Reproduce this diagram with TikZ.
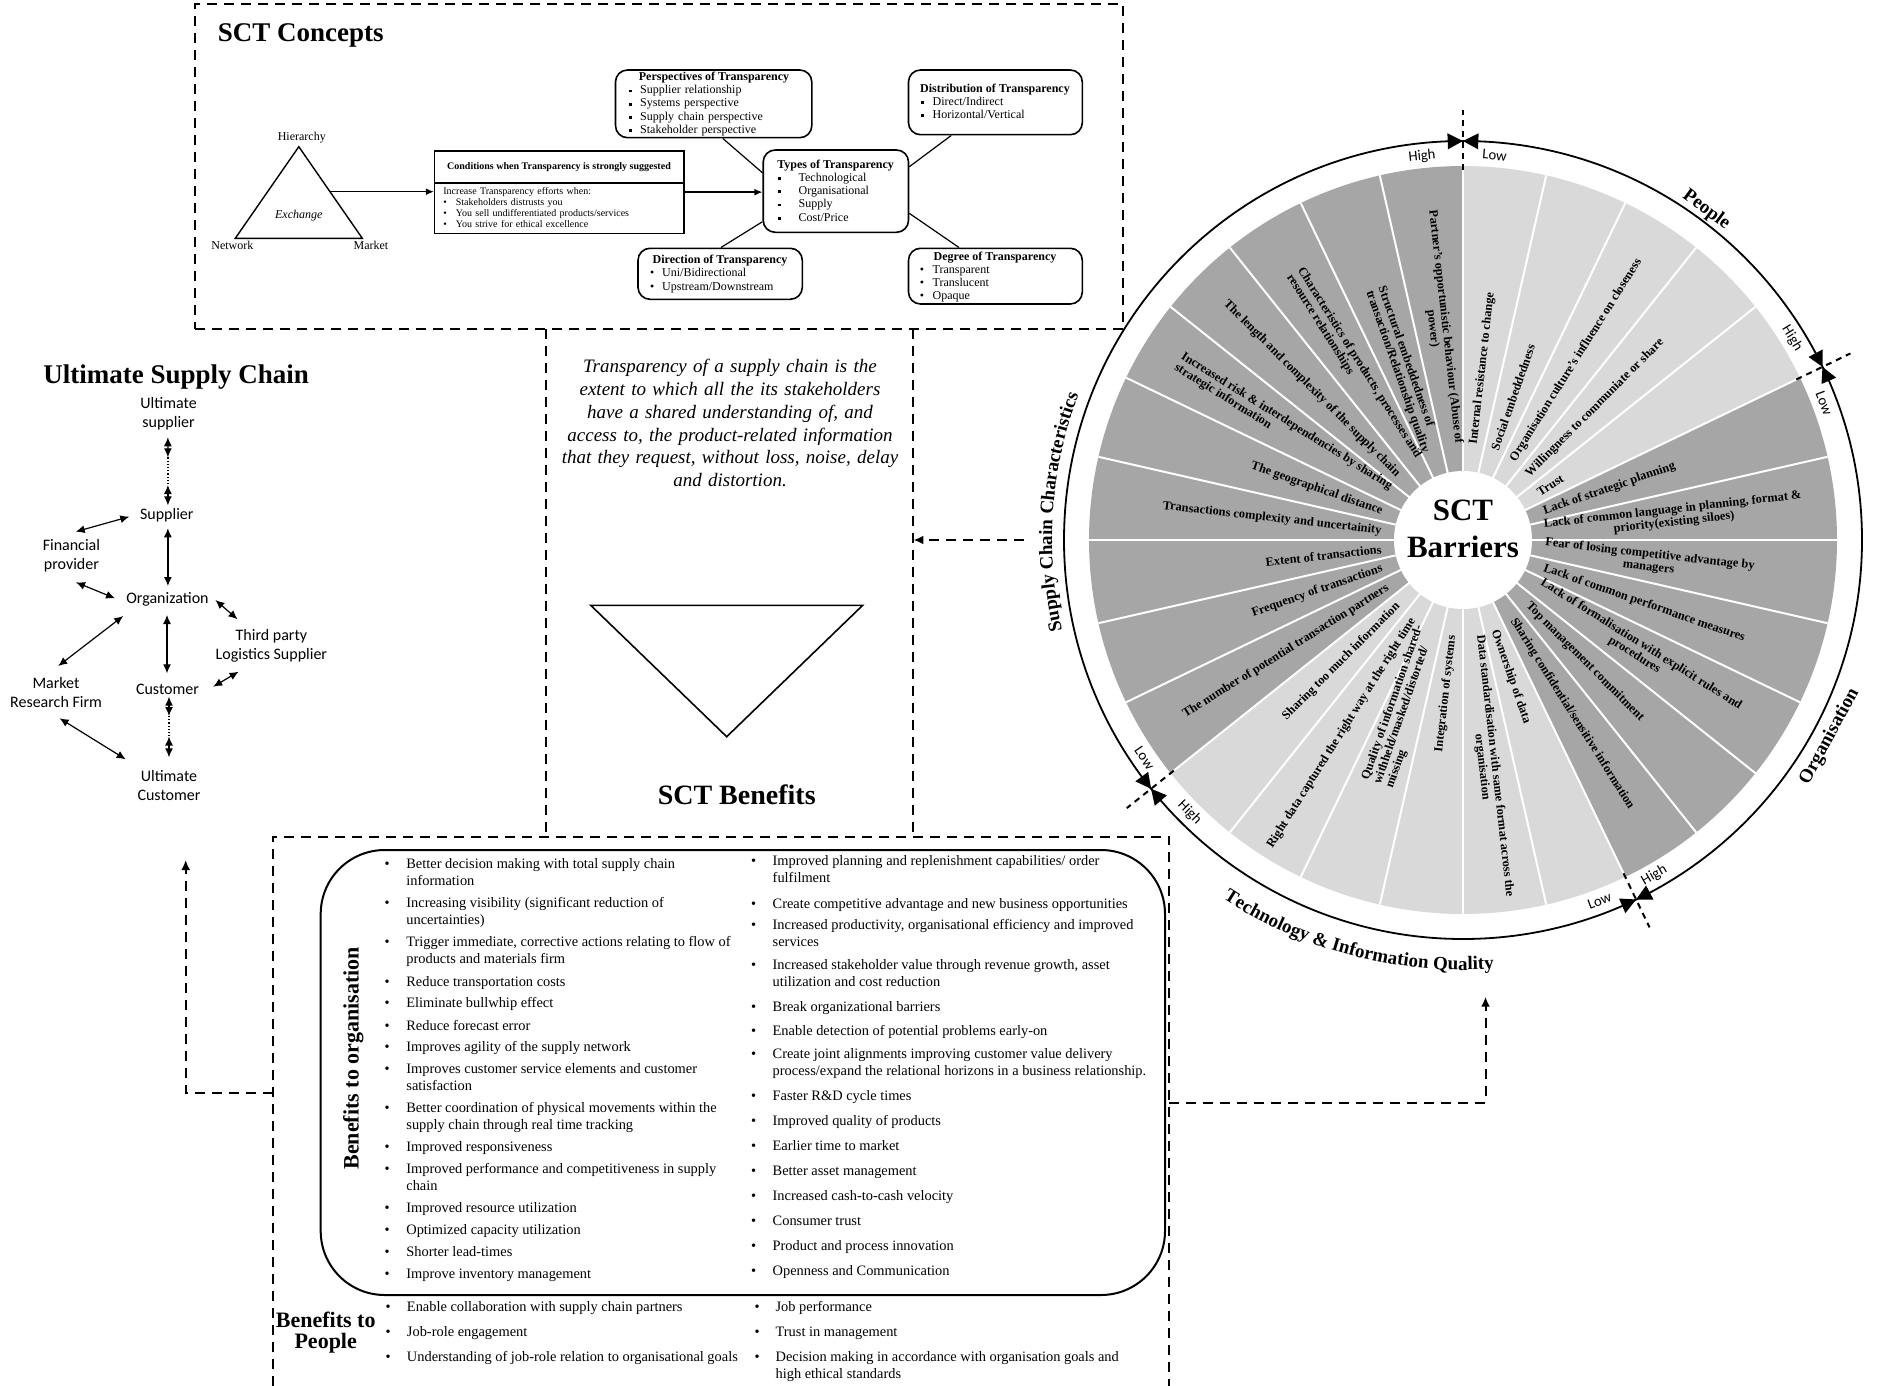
\documentclass[tikz,border=0pt]{standalone}
\usepackage{fontspec}
\setmainfont{Liberation Serif}
\newfontfamily\carlito{Carlito}
\usetikzlibrary{arrows.meta,decorations.text,calc}
\definecolor{wdark}{RGB}{166,166,166}
\definecolor{wlight}{RGB}{217,217,217}
\newcounter{itm}
\newcommand\sqb{\raisebox{0.7pt}{\rule{1.4pt}{1.4pt}}}
% bulleted item: x, baseline y, bullet box width, lines of text
\newcommand\bitem[4]{%
  \stepcounter{itm}%
  \node[bul] (it\theitm) at (#1,#2)
    {\makebox[#3][l]{\textbullet}\begin{tabular}[t]{@{}l@{}}#4\end{tabular}};}
\begin{document}
\begin{tikzpicture}[x=0.5pt, y=-0.5pt,
  dashbox/.style={line width=1pt, dash pattern=on 5pt off 3.5pt},
  flow/.style={line width=1pt, dash pattern=on 5pt off 3.5pt, >={Latex[length=5pt,width=4.5pt]}, ->},
  cnode/.style={draw, line width=0.8pt, rounded corners=6pt, inner sep=0pt},
  ctitle/.style={anchor=base, inner sep=0pt, font=\bfseries\fontsize{6}{6.6}\selectfont},
  clist/.style={anchor=base west, inner sep=0pt, align=left, font=\fontsize{6}{6.6}\selectfont},
  conn/.style={line width=0.6pt},
  carr/.style={line width=0.7pt, >={Latex[length=4pt,width=3.5pt]}, ->},
  sc/.style={font=\carlito\fontsize{8}{9.5}\selectfont, align=center, inner sep=1pt},
  dar/.style={line width=0.6pt, >={Latex[length=4.5pt,width=4pt]}, <->},
  bul/.style={anchor=base west, inner sep=0pt, font=\fontsize{7.2}{8.5}\selectfont},
  wl/.style={font=\bfseries\fontsize{6.2}{6.4}\selectfont, inner sep=0pt},
  hl/.style={font=\carlito\fontsize{7.3}{8}\selectfont, inner sep=0pt},
  cat/.style={font=\bfseries\fontsize{9.5}{11}\selectfont, inner sep=0pt},
]
\fill[white] (0,0) rectangle (1879,1386);
\useasboundingbox (0,0) rectangle (1879,1386);

% ---------------- SCT Concepts ----------------
\node[draw, dashbox, minimum width=464pt, minimum height=162.5pt, inner sep=0pt] (cbox) at (659,166.5) {};
\node[anchor=base west, inner sep=0pt, font=\bfseries\fontsize{13.5}{16}\selectfont] (ctit) at (217.5,42) {SCT Concepts};

% governance triangle
\coordinate (tA) at (298.8,146.7);
\coordinate (tB) at (235.3,238.3);
\coordinate (tC) at (362.3,238.3);
\draw[line width=0.7pt] (tA) -- (tB) -- (tC) -- cycle;
\node[inner sep=0pt, font=\fontsize{6}{7}\selectfont] (hier) at (301.8,137.3) {Hierarchy};
\node[inner sep=0pt, font=\fontsize{6}{7}\selectfont] (netw) at (232.4,245.7) {Network};
\node[inner sep=0pt, font=\fontsize{6}{7}\selectfont] (mark) at (371,245.7) {Market};
\node[inner sep=0pt, font=\itshape\fontsize{6}{7}\selectfont] (exch) at (298.8,216) {Exchange};
\coordinate (triR) at (330,191.7);

% conditions box
\node[draw, line width=0.8pt, minimum width=124.55pt, minimum height=41.15pt, inner sep=0pt] (cond) at (559.15,192.15) {};
\coordinate (cdiv) at (559,182.7);
\draw[line width=0.8pt] (cdiv -| cond.west) -- (cdiv -| cond.east);
\node[anchor=base, inner sep=0pt, font=\bfseries\fontsize{5}{6}\selectfont] (chead) at (559,169.5) {Conditions when Transparency is strongly suggested};
\node[anchor=base west, inner sep=0pt, align=left, text width=120pt, font=\fontsize{5}{5.5}\selectfont] (cbody) at (443,194.3)
  {Increase Transparency efforts when:\\
   \makebox[6.25pt][l]{\textbullet}Stakeholders distrusts you\\
   \makebox[6.25pt][l]{\textbullet}You sell undifferentiated products/services\\
   \makebox[6.25pt][l]{\textbullet}You strive for ethical excellence};

% types and its satellites
\node[cnode, minimum width=98.15pt, minimum height=33.85pt] (persp) at (713.65,103.85) {};
\node[ctitle] (tpersp) at (714,81) {Perspectives of Transparency};
\node[clist, text width=95pt] (lpersp) at (628.3,93.8)
  {\makebox[5.75pt][l]{\sqb}Supplier relationship\\
   \makebox[5.75pt][l]{\sqb}Systems perspective\\
   \makebox[5.75pt][l]{\sqb}Supply chain perspective\\
   \makebox[5.75pt][l]{\sqb}Stakeholder perspective};

\node[cnode, minimum width=86.9pt, minimum height=32.35pt] (dist) at (995.4,102.35) {};
\node[ctitle] (tdist) at (995,92.2) {Distribution of Transparency};
\node[clist, text width=80pt] (ldist) at (920.9,105.5)
  {\makebox[5.7pt][l]{\sqb}Direct/Indirect\\
   \makebox[5.7pt][l]{\sqb}Horizontal/Vertical};

\node[cnode, minimum width=72.65pt, minimum height=41.15pt] (types) at (835.85,191.15) {};
\node[ctitle] (ttypes) at (835.6,168.2) {Types of Transparency};
\node[clist, text width=65pt] (ltypes) at (777.3,181.5)
  {\makebox[10.45pt][l]{\sqb}Technological\\
   \makebox[10.45pt][l]{\sqb}Organisational\\
   \makebox[10.45pt][l]{\sqb}Supply\\
   \makebox[10.45pt][l]{\sqb}Cost/Price};

\node[cnode, minimum width=82.15pt, minimum height=25.5pt] (dir) at (720.15,273.8) {};
\node[ctitle] (tdir) at (720,263.5) {Direction of Transparency};
\node[clist, text width=76pt] (ldir) at (649.6,276.8)
  {\makebox[6.1pt][l]{\textbullet}Uni/Bidirectional\\
   \makebox[6.1pt][l]{\textbullet}Upstream/Downstream};

\node[cnode, minimum width=86.9pt, minimum height=27.85pt] (deg) at (995.4,276.15) {};
\node[ctitle] (tdeg) at (995,260.2) {Degree of Transparency};
\node[clist, text width=80pt] (ldeg) at (919.5,273.5)
  {\makebox[6.4pt][l]{\textbullet}Transparent\\
   \makebox[6.4pt][l]{\textbullet}Translucent\\
   \makebox[6.4pt][l]{\textbullet}Opaque};

\draw[carr] (triR) -- (triR -| cond.west);
\draw[carr] (cond.east) -- (cond.east -| types.west);
\draw[conn] ([xshift=4.6pt]persp.south) -- ([yshift=9.2pt]types.west);
\draw[conn] ([xshift=-22.1pt]dist.south) -- ([yshift=12.2pt]types.east);
\draw[conn] ([xshift=0.4pt]dir.north) -- ([yshift=-15.3pt]types.west);
\draw[conn] ([xshift=-18.2pt]deg.north) -- ([yshift=-11.1pt]types.east);

% ---------------- definition column ----------------
\node[minimum width=183.5pt, minimum height=254pt, inner sep=0pt] (mid) at (729.5,583) {};
\draw[dashbox] (mid.north west) -- (mid.south west);
\draw[dashbox] (mid.north east) -- (mid.south east);
\node[anchor=base, inner sep=0pt, text width=172pt, align=center, font=\itshape\fontsize{9.5}{11.45}\selectfont] (defn) at (730,372.3)
  {Transparency of a supply chain is the\\
   extent to which all the its stakeholders\\
   have a shared understanding of, and\\
   access to, the product-related information\\
   that they request, without loss, noise, delay\\
   and distortion.};
\draw[line width=0.8pt] (590.7,605.3) -- (862.7,605.3) -- (726.7,736.7) -- cycle;
\node[anchor=base, inner sep=0pt, font=\bfseries\fontsize{14}{16}\selectfont] (benf) at (736.7,804) {SCT Benefits};

% ---------------- Ultimate supply chain ----------------
\node[anchor=base west, inner sep=0pt, font=\bfseries\fontsize{13.5}{16}\selectfont] (usc) at (43,383.3) {Ultimate Supply Chain};
\node[sc] (usup) at (168.6,414) {Ultimate\\supplier};
\node[sc] (sup) at (166.8,515.7) {Supplier};
\node[sc] (fin) at (71.4,556) {Financial\\provider};
\node[sc] (org) at (167.5,599.3) {Organization};
\node[sc] (tpl) at (271.4,646) {Third party\\Logistics Supplier};
\node[sc] (cus) at (167.5,689.3) {Customer};
\node[sc] (mrf) at (56,692.2) {Market\\Research Firm};
\node[sc] (ucus) at (169,785) {Ultimate\\Customer};
\coordinate (d1) at (167.9,457.3);
\coordinate (d2) at (167.9,485);
\coordinate (d3) at (169,716);
\coordinate (d4) at (169,736.5);
\draw[dar] ([shift={(-0.7,23.3)}]usup.center) -- (d1);
\draw[densely dotted, line width=0.6pt] (d1) -- (d2);
\draw[dar] (d2) -- ([shift={(1.1,-10.4)}]sup.center);
\draw[dar] ([shift={(1.1,12.6)}]sup.center) -- ([shift={(0.4,-13.3)}]org.center);
\draw[dar] ([shift={(4.3,-24.3)}]fin.center) -- ([shift={(-37.5,1)}]sup.center);
\draw[dar] ([shift={(4.6,26.3)}]fin.center) -- ([shift={(-52.5,-1)}]org.center);
\draw[dar] ([shift={(47.9,0.7)}]org.center) -- ([shift={(-33.9,-26.7)}]tpl.center);
\draw[dar] ([shift={(-0.5,15.7)}]org.center) -- ([shift={(-0.5,-16)}]cus.center);
\draw[dar] ([shift={(45.7,-2.6)}]cus.center) -- ([shift={(-32.8,25.7)}]tpl.center);
\draw[dar] ([shift={(-44.3,16.7)}]org.center) -- ([shift={(2.2,-26.2)}]mrf.center);
\draw[dar] ([shift={(3.6,26.1)}]mrf.center) -- ([shift={(-43.3,-25.7)}]ucus.center);
\draw[dar] ([shift={(1.5,7.4)}]cus.center) -- (d3);
\draw[densely dotted, line width=0.6pt] (d3) -- (d4);
\draw[dar] (d4) -- ([shift={(0,-27.7)}]ucus.center);

% ---------------- SCT Barriers wheel ----------------
\begin{scope}[shift={(1463,540)}, y=0.5pt]
  \foreach \k in {0,...,27}{
    \pgfmathsetmacro\aa{90-\k*360/28}
    \pgfmathsetmacro\ab{\aa-360/28}
    \ifnum\k<5 \def\wc{wlight}\else\ifnum\k<12 \def\wc{wdark}\else\ifnum\k<18 \def\wc{wlight}\else\def\wc{wdark}\fi\fi\fi
    \fill[\wc] (0,0) -- (\aa:374) arc[start angle=\aa, end angle=\ab, radius=374] -- cycle;
  }
  \foreach \k in {0,...,27}{
    \draw[white, line width=1pt] ({90-\k*360/28}:60) -- ({90-\k*360/28}:374);
  }
  \fill[white] (0,0) circle[radius=69];
  \node[inner sep=0pt, align=center, font=\bfseries\fontsize{15.5}{18.6}\selectfont] (barr) at (0,11) {SCT\\Barriers};

  \foreach \k/\al/\txt in {
    0/center/{Internal resistance to change},
    1/center/{Social embeddedness},
    2/center/{Organisation culture’s influence on closeness},
    3/center/{Willingness to communiate or share},
    4/center/{Trust},
    5/center/{Lack of strategic planning},
    6/center/{Lack of common language in planning, format \&\\priority(existing siloes)},
    7/center/{Fear of losing competitive advantage by\\managers},
    8/center/{Lack of common performance measures},
    9/center/{Lack of formalisation with explicit rules and\\procedures},
    10/center/{Top management commitment},
    11/center/{Sharing confidential/sensitive information},
    12/center/{Ownership of data},
    13/center/{Data standardisation with same format across the\\organisation},
    14/left/{Integration of systems},
    15/left/{Quality of information shared-\\withheld/masked/distorted/\\missing},
    16/left/{Right data captured the right way at the right time},
    17/left/{Sharing too much information},
    18/left/{The number of potential transaction partners},
    19/left/{Frequency of transactions},
    20/left/{Extent of transactions},
    21/left/{Transactions complexity and uncertainity},
    22/left/{The geographical distance},
    23/left/{Increased risk \& interdependencies by sharing\\strategic information},
    24/left/{The length and complexity of the supply chain},
    25/left/{Characteristics of products, processes and\\resource relationships},
    26/left/{Structural embeddedness of\\transaction/Relationship quality},
    27/center/{Partner’s opportunistic behaviour (Abuse of\\power)}}{
    \pgfmathsetmacro\ang{90-(\k+0.5)*360/28}
    \pgfmathsetmacro\rr{80+16*abs(sin(\ang))}
    \ifnum\k<14
      \node[wl, align=\al, anchor=west, rotate=\ang] (w\k) at (\ang:\rr) {\txt};
    \else
      \pgfmathsetmacro\rang{\ang+180}
      \node[wl, align=\al, anchor=east, rotate=\rang] (w\k) at (\ang:\rr) {\txt};
    \fi
  }

  % scale ring with Low/High markers
  \draw[line width=0.9pt] (0,0) circle[radius=399];
  \foreach \d in {90,25.714,-64.286,-141.429}{
    \draw[line width=1pt, dash pattern=on 3pt off 2.5pt] (\d:370) -- (\d:430);
    \fill ({\d}:399) -- ({\d+2.2}:391) -- ({\d+2.2}:407) -- cycle;
    \fill ({\d}:399) -- ({\d-2.2}:391) -- ({\d-2.2}:407) -- cycle;
  }
  \foreach \a/\t/\r [count=\i] in {96.1/High/6.1, 85.3/Low/-4.7, 31.5/High/-58.5, 20.7/Low/-69.3,
      -60.3/High/29.7, -69.3/Low/20.7, -135.1/High/-45.1, -145.6/Low/-55.6}{
    \node[hl, rotate=\r] (hl\i) at (\a:386) {\t};
  }

  % category names
  \node[cat, rotate=-36.4] (lpeople) at (53.6:410) {People};
  \node[cat, rotate=61.8] (lorg) at (-28.2:416) {Organisation};
  \path[decorate, decoration={text along path, text align=center,
      text={|\bfseries\fontsize{9.5}{11}\selectfont|Supply Chain Characteristics}}]
    (196:411) arc[start angle=196, end angle=156, radius=411];
  \path[decorate, decoration={text along path, text align=center,
      text={|\bfseries\fontsize{9.5}{11}\selectfont|Technology {\&} Information Quality}}]
    ([yshift=5pt]-125:440) arc[start angle=-125, end angle=-84, radius=440];
\end{scope}

% ---------------- SCT Benefits ----------------
\node[minimum width=448pt, minimum height=274.5pt, inner sep=0pt] (bout) at (721,1111.5) {};
\draw[dashbox] (bout.south west) -- (bout.north west) -- (bout.north east) -- (bout.south east);
\node[draw, line width=1pt, rounded corners=32pt, minimum width=422.15pt, minimum height=222.5pt, inner sep=0pt] (ibox) at (742.85,1072.5) {};
\node[rotate=90, inner sep=0pt, font=\bfseries\fontsize{11}{13}\selectfont] (bto) at (353.3,1058.3) {Benefits to organisation};
\node[align=center, inner sep=0pt, font=\bfseries\fontsize{11}{10.8}\selectfont] (btp) at (325.7,1332.5) {Benefits to\\People};

\bitem{384.1}{868.5}{10.95pt}{Better decision making with total supply chain\\information}
\bitem{384.1}{907.5}{10.95pt}{Increasing visibility (significant reduction of\\uncertainties)}
\bitem{384.1}{946.8}{10.95pt}{Trigger immediate, corrective actions relating to flow of\\products and materials firm}
\bitem{384.1}{986.2}{10.95pt}{Reduce transportation costs}
\bitem{384.1}{1007.8}{10.95pt}{Eliminate bullwhip effect}
\bitem{384.1}{1030.2}{10.95pt}{Reduce forecast error}
\bitem{384.1}{1051.2}{10.95pt}{Improves agility of the supply network}
\bitem{384.1}{1073.5}{10.95pt}{Improves customer service elements and customer\\satisfaction}
\bitem{384.1}{1112.8}{10.95pt}{Better coordination of physical movements within the\\supply chain through real time tracking}
\bitem{384.1}{1151.8}{10.95pt}{Improved responsiveness}
\bitem{384.1}{1173.5}{10.95pt}{Improved performance and competitiveness in supply\\chain}
\bitem{384.1}{1212.8}{10.95pt}{Improved resource utilization}
\bitem{384.1}{1234.5}{10.95pt}{Optimized capacity utilization}
\bitem{384.1}{1256.2}{10.95pt}{Shorter lead-times}
\bitem{384.1}{1278.5}{10.95pt}{Improve inventory management}

\bitem{750.7}{865.8}{10.8pt}{Improved planning and replenishment capabilities/ order\\fulfilment}
\bitem{750.7}{908.5}{10.8pt}{Create competitive advantage and new business opportunities}
\bitem{750.7}{929.5}{10.8pt}{Increased productivity, organisational efficiency and improved\\services}
\bitem{750.7}{969.2}{10.8pt}{Increased stakeholder value through revenue growth, asset\\utilization and cost reduction}
\bitem{750.7}{1011.8}{10.8pt}{Break organizational barriers}
\bitem{750.7}{1035.8}{10.8pt}{Enable detection of potential problems early-on}
\bitem{750.7}{1058.5}{10.8pt}{Create joint alignments improving customer value delivery\\process/expand the relational horizons in a business relationship.}
\bitem{750.7}{1100.8}{10.8pt}{Faster R\&D cycle times}
\bitem{750.7}{1125.2}{10.8pt}{Improved quality of products}
\bitem{750.7}{1150.2}{10.8pt}{Earlier time to market}
\bitem{750.7}{1175.8}{10.8pt}{Better asset management}
\bitem{750.7}{1200.2}{10.8pt}{Increased cash-to-cash velocity}
\bitem{750.7}{1225.2}{10.8pt}{Consumer trust}
\bitem{750.7}{1250.8}{10.8pt}{Product and process innovation}
\bitem{750.7}{1275.8}{10.8pt}{Openness and Communication}

\bitem{385.1}{1311.8}{10.75pt}{Enable collaboration with supply chain partners}
\bitem{385.1}{1336.8}{10.75pt}{Job-role engagement}
\bitem{385.1}{1361.8}{10.75pt}{Understanding of job-role relation to organisational goals}
\bitem{754.2}{1311.8}{10.5pt}{Job performance}
\bitem{754.2}{1336.8}{10.5pt}{Trust in management}
\bitem{754.2}{1361.8}{10.5pt}{Decision making in accordance with organisation goals and\\high ethical standards}

% ---------------- flow between the parts ----------------
\coordinate (wst) at (1024,540);
\draw[flow] (wst) -- (wst -| mid.east);
\coordinate (cL) at (185.7,1092.6);
\coordinate (tL) at (185.7,860);
\draw[flow] (cL -| bout.west) -- (cL) -- (tL);
\coordinate (cR) at (1485.5,1103.3);
\coordinate (tR) at (1485.5,996.7);
\draw[flow] (cR -| bout.east) -- (cR) -- (tR);
\end{tikzpicture}
\end{document}
